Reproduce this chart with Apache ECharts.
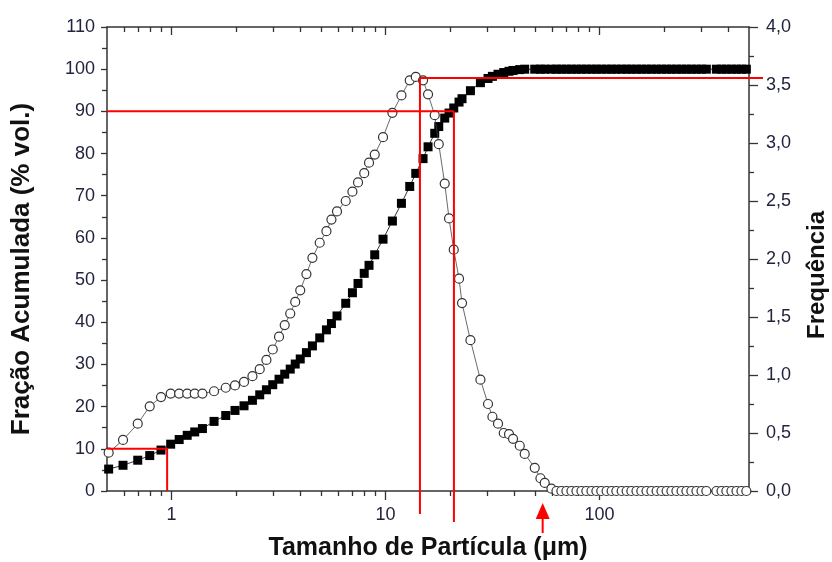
<!DOCTYPE html>
<html><head><meta charset="utf-8">
<script src="https://cdn.jsdelivr.net/npm/echarts@6/dist/echarts.min.js"></script>
<style>html,body{margin:0;padding:0;background:#fff}#c{width:832px;height:562px}</style>
</head><body><div id="c"></div>
<script>
// Particle size (µm)
const particleSize = [0.509,0.594,0.696,0.792,0.894,0.992,1.087,1.185,1.285,1.396,1.582,1.794,1.982,2.184,2.391,2.586,2.779,2.975,3.183,3.384,3.591,3.789,3.999,4.274,4.559,4.932,5.301,5.594,5.940,6.524,7.012,7.447,7.961,8.383,8.913,9.745,10.78,11.88,12.99,13.86,14.99,15.82,17.00,17.75,18.93,19.83,20.86,22.08,22.80,24.96,27.79,30.16,31.62,33.59,35.72,37.81,39.48,42.43,44.76,49.86,53.01,55.52,59.66,
  63.0,66.4,70.1,74.0,78.1,82.4,86.9,91.8,96.8,102,108,114,120,127,134,141,149,157,166,175,185,195,206,217,229,242,255,269,284,300,316,352,372,392,414,437,461,486];
// Cumulative fraction (% vol.)
const cumulative = [5.2,6.1,7.3,8.4,9.7,11.1,12.2,13.2,14.0,14.8,16.5,17.9,19.1,20.2,21.5,22.8,24.0,25.2,26.5,27.7,28.9,30.1,31.3,32.8,34.4,36.3,38.2,39.7,41.5,44.5,47.0,49.2,51.6,53.5,56.0,59.7,64.0,68.2,72.2,75.3,78.8,81.6,84.8,86.4,88.4,89.6,90.8,92.2,93.0,94.9,96.8,97.8,98.3,98.8,99.2,99.5,99.7,99.9,100,100,100,100,100,
  100,100,100,100,100,100,100,100,100,100,100,100,100,100,100,100,100,100,100,100,100,100,100,100,100,100,100,100,100,100,100,100,100,100,100,100,100,100];
// Frequency
const frequency = [0.33,0.44,0.58,0.73,0.81,0.84,0.84,0.84,0.84,0.84,0.86,0.89,0.91,0.94,0.99,1.05,1.13,1.22,1.33,1.43,1.53,1.63,1.73,1.87,2.01,2.14,2.24,2.34,2.41,2.50,2.58,2.66,2.74,2.83,2.90,3.05,3.26,3.41,3.54,3.57,3.54,3.42,3.24,2.99,2.65,2.35,2.08,1.83,1.62,1.30,0.96,0.75,0.64,0.58,0.50,0.49,0.45,0.39,0.32,0.20,0.11,0.07,0.02,
  0,0,0,0,0,0,0,0,0,0,0,0,0,0,0,0,0,0,0,0,0,0,0,0,0,0,0,0,0,0,0,0,0,0,0,0,0,0];
// Axis ticks
const xMajorTicks = [1, 10, 100];
const xMinorTicks = [0.6,0.7,0.8,0.9,2,3,4,5,6,7,8,9,20,30,40,50,60,70,80,90,200,300,400];
const xRange = [0.5, 500];
const leftRange = [0, 110], leftStep = 10;
const rightRange = [0, 4], rightStep = 0.5;
// Annotations (data space)
const d10 = 0.955, d90 = 20.9, dPeak = 14.5, peakFreq = 3.56, arrowAt = 54.3;

const FONT = "'Liberation Sans', Arial, sans-serif";
const AX = '#333';
const LBL = '#22243f';
const chart = echarts.init(document.getElementById('c'), null, {renderer: 'canvas'});

function xAxisDef(pos, ticks, len, inside, showLine, label) {
  return {
    type: 'log', logBase: 10, min: xRange[0], max: xRange[1], position: pos, gridIndex: 0,
    axisLine: {show: showLine, onZero: false, lineStyle: {color: AX, width: 1.5}},
    axisTick: {show: true, inside: inside, length: len, customValues: ticks, lineStyle: {color: AX, width: 1.3}},
    minorTick: {show: false},
    splitLine: {show: false},
    axisLabel: label ? {show: true, customValues: xMajorTicks, fontSize: 18, fontFamily: FONT, color: LBL, margin: 15,
      formatter: v => String(Math.round(v))} : {show: false}
  };
}

const xAxes = [
  Object.assign(xAxisDef('bottom', xMajorTicks, 9, false, true, true), {
    name: 'Tamanho de Partícula (μm)', nameLocation: 'middle', nameGap: 45,
    nameTextStyle: {fontSize: 25, fontWeight: 'bold', fontFamily: FONT, color: '#111'}
  }),
  xAxisDef('bottom', xMinorTicks, 5, false, false, false),
  xAxisDef('top', xMajorTicks, 8, true, true, false),
  xAxisDef('top', xMinorTicks, 5, true, false, false)
];

const option = {
  animation: false,
  backgroundColor: '#fff',
  grid: {left: 107, right: 83, top: 27, bottom: 71, containLabel: false, outerBoundsMode: 'none'},
  xAxis: xAxes,
  yAxis: [
    {
      type: 'value', min: leftRange[0], max: leftRange[1], interval: leftStep, position: 'left',
      axisLine: {show: true, onZero: false, lineStyle: {color: AX, width: 1.5}},
      axisTick: {show: true, length: 6, lineStyle: {color: AX, width: 1.3}},
      minorTick: {show: true, splitNumber: 2, length: 5, lineStyle: {color: AX, width: 1.3}},
      splitLine: {show: false},
      axisLabel: {fontSize: 18, fontFamily: FONT, color: LBL, margin: 12},
      name: 'Fração Acumulada (% vol.)', nameLocation: 'middle', nameGap: 72, nameRotate: 90,
      nameTextStyle: {fontSize: 26, fontWeight: 'bold', fontFamily: FONT, color: '#111', padding: [0, 20, 0, 0]}
    },
    {
      type: 'value', min: rightRange[0], max: rightRange[1], interval: rightStep, position: 'right',
      axisLine: {show: true, onZero: false, lineStyle: {color: AX, width: 1.5}},
      axisTick: {show: true, length: 9, lineStyle: {color: AX, width: 1.3}},
      minorTick: {show: true, splitNumber: 2, length: 5, lineStyle: {color: AX, width: 1.3}},
      splitLine: {show: false},
      axisLabel: {fontSize: 18, fontFamily: FONT, color: LBL, margin: 17,
        formatter: v => v.toFixed(1).replace('.', ',')},
      name: 'Frequência', nameLocation: 'middle', nameGap: 56, nameRotate: 90,
      nameTextStyle: {fontSize: 24, fontWeight: 'bold', fontFamily: FONT, color: '#111', padding: [0, 32, 0, 0]}
    }
  ],
  series: [
    {
      name: 'Fração Acumulada', type: 'line', xAxisIndex: 0, yAxisIndex: 0,
      data: particleSize.map((x, i) => [x, cumulative[i]]),
      symbol: 'rect', symbolSize: 9, showSymbol: true, showAllSymbol: true,
      itemStyle: {color: '#000'}, lineStyle: {color: '#000', width: 0.8}, z: 2
    },
    {
      name: 'Frequência', type: 'line', xAxisIndex: 0, yAxisIndex: 1,
      data: particleSize.map((x, i) => [x, frequency[i]]),
      symbol: 'circle', symbolSize: 9, showSymbol: true, showAllSymbol: true,
      itemStyle: {color: '#fff', borderColor: '#333', borderWidth: 1.2},
      lineStyle: {color: '#444', width: 0.8}, z: 3
    }
  ]
};
chart.setOption(option);

// red annotation lines through the library's scales
const pL = (x, y) => chart.convertToPixel({seriesIndex: 0}, [x, y]);
const pR = (x, y) => chart.convertToPixel({seriesIndex: 1}, [x, y]);
const RED = '#ff0000';
const seg = (a, b) => ({type: 'line', z: 100, shape: {x1: a[0], y1: a[1], x2: b[0], y2: b[1]}, style: {stroke: RED, lineWidth: 2}});
const base = pL(1, 0)[1];
const a10 = pL(xRange[0], 10), b10 = pL(d10, 10), c10 = pL(d10, 0);
const a90 = pL(xRange[0], 90), b90 = pL(d90, 90), c90 = pL(d90, 0);
const pk = pR(dPeak, peakFreq), pkEnd = pR(xRange[1], peakFreq), pk0 = pR(dPeak, 0);
const ar = pL(arrowAt, 0);
chart.setOption({
  graphic: [
    seg(a10, b10), seg(b10, c10),
    seg(a90, b90), seg(b90, [c90[0], c90[1] + 31]),
    seg(pk, [pk0[0], pk0[1] + 23]), seg(pk, [pkEnd[0] + 14, pkEnd[1]]),
    seg([ar[0], base + 26], [ar[0], base + 42]),
    {type: 'polygon', z: 100, shape: {points: [[ar[0], base + 12], [ar[0] - 7, base + 28], [ar[0] + 7, base + 28]]}, style: {fill: RED}}
  ]
});
</script>
</body></html>
